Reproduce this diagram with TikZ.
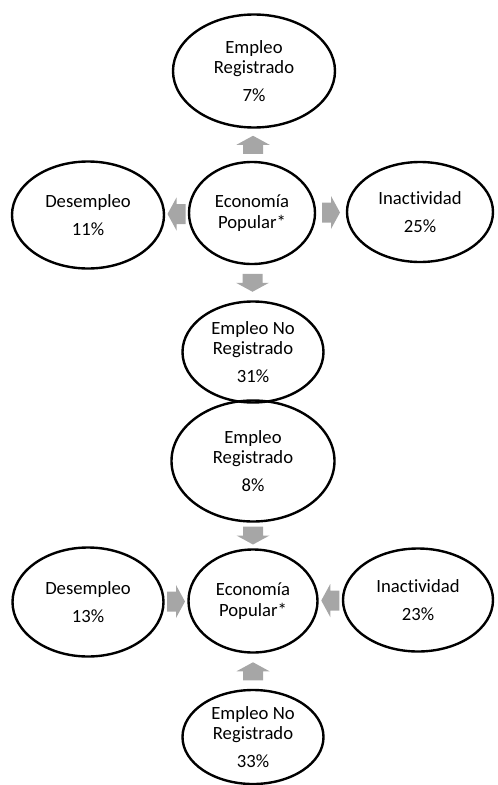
\documentclass[tikz,border=0pt]{standalone}
\usepackage{fontspec}
\setmainfont{Carlito}[Ligatures=NoCommon]
\usepackage{tikz}
\usetikzlibrary{shapes,calc}

\definecolor{gris}{HTML}{A6A6A6}

\tikzset{
  estado/.style={draw, ellipse, line width=1.8pt, inner sep=0pt, align=center,
    font=\fontsize{14}{15.5}\selectfont},
  flecha/.pic={
    \fill[gris] (-9,-10) -- (0,-10) -- (0,-16.5) -- (9,0) -- (0,16.5) -- (0,10) -- (-9,10) -- cycle;
  }
}

\begin{document}
\begin{tikzpicture}[x=0.75pt, y=-0.75pt]
        \useasboundingbox (0,0) rectangle (497,785);

        % salidas
        \node[estado, minimum width=121.5pt, minimum height=84.75pt] (er1) at (254,71) {Empleo\\Registrado\\[5.5pt]7\%};
        \node[estado, minimum width=94.5pt, minimum height=76.5pt] (ep1) at (252,213) {Economía\\Popular*};
        \node[estado, minimum width=114pt, minimum height=80.25pt] (ds1) at (88,215) {Desempleo\\[5.5pt]11\%};
        \node[estado, minimum width=109.5pt, minimum height=75pt] (in1) at (420,212) {Inactividad\\[5.5pt]25\%};
        \node[estado, minimum width=105.75pt, minimum height=75.75pt] (en1) at (253,352) {Empleo No\\Registrado\\[5.5pt]31\%};

        \pic[rotate=90] at ($(ep1.north)!0.5!(er1.south)$) {flecha};
        \pic[rotate=-90] at ($(ep1.south)!0.5!(en1.north)$) {flecha};
        \pic[rotate=180] at ($(ep1.west)!0.5!(ds1.east)$) {flecha};
        \pic at ($(ep1.east)!0.5!(in1.west)$) {flecha};

        % entradas
        \node[estado, minimum width=122.25pt, minimum height=90.75pt] (er2) at (253,461) {Empleo\\Registrado\\[5.5pt]8\%};
        \node[estado, minimum width=96.75pt, minimum height=77.25pt] (ep2) at (253,601) {Economía\\Popular*};
        \node[estado, minimum width=113.25pt, minimum height=81.75pt] (ds2) at (88,602) {Desempleo\\[5.5pt]13\%};
        \node[estado, minimum width=112.5pt, minimum height=77.25pt] (in2) at (418,600) {Inactividad\\[5.5pt]23\%};
        \node[estado, minimum width=105.75pt, minimum height=70.5pt] (en2) at (253,737) {Empleo No\\Registrado\\[5.5pt]33\%};

        \pic[rotate=-90] at ($(er2.south)!0.5!(ep2.north)$) {flecha};
        \pic[rotate=90] at ($(en2.north)!0.5!(ep2.south)$) {flecha};
        \pic at ($(ds2.east)!0.5!(ep2.west)$) {flecha};
        \pic[rotate=180] at ($(in2.west)!0.5!(ep2.east)$) {flecha};

\end{tikzpicture}
\end{document}
